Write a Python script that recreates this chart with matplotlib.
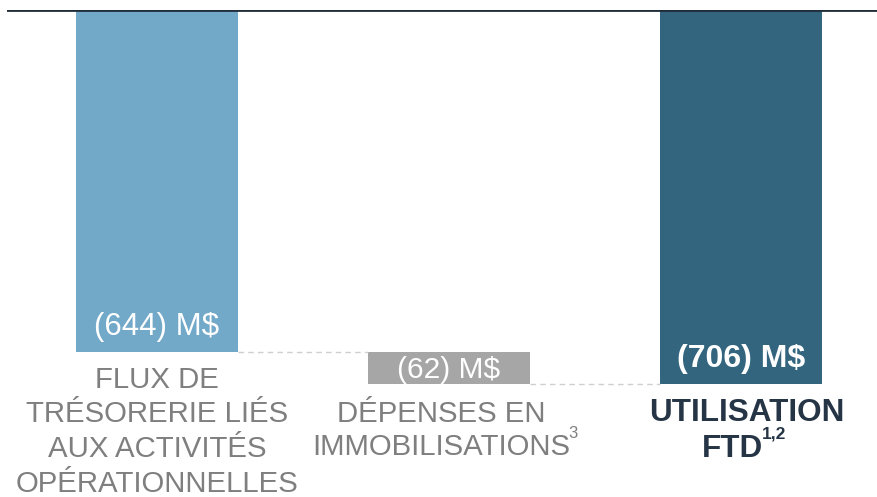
import matplotlib.pyplot as plt

plt.rcParams['font.family'] = ['Liberation Sans', 'DejaVu Sans']

# waterfall values (M$)
categories = [["FLUX DE", "TRÉSORERIE LIÉS", "AUX ACTIVITÉS", "OPÉRATIONNELLES"],
              ["DÉPENSES EN", "IMMOBILISATIONS"],
              ["UTILISATION", "FTD"]]
superscripts = ["", "3", "1,2"]
values = [-644, -62, -706]
value_labels = ["(644) M$", "(62) M$", "(706) M$"]
colors = ["#72a8c8", "#a6a6a6", "#33657e"]


def main():
    fig = plt.figure(figsize=(8.77, 4.97), dpi=100)
    ax = fig.add_axes([7 / 877, 0, 870 / 877, 487.5 / 497])

    px = 0.5311  # pixels per M$
    x = [0, 1, 2]
    w = 0.555

    # bottoms for waterfall
    starts = [0, values[0], 0]
    for i in range(3):
        ax.bar(x[i], values[i], bottom=starts[i], width=w, color=colors[i], zorder=2)

    # connectors
    ax.plot([x[0] + w / 2, x[1] - w / 2], [values[0]] * 2, ls=(0, (4, 3)), color="#cfcfcf", lw=1)
    ax.plot([x[1] + w / 2, x[2] - w / 2], [values[0] + values[1]] * 2, ls=(0, (4, 3)),
            color="#cfcfcf", lw=1)

    ax.axhline(0, color="#1f2d3a", lw=2, zorder=3)

    def py(p):
        return -(p - 9.5) / px

    def pxx(p):
        return (p - 157) / 292

    # value labels inside bars
    ax.text(x[0], py(335), value_labels[0], ha="center", va="baseline", color="white", fontsize=22.5)
    ax.text(x[1], py(378), value_labels[1], ha="center", va="baseline", color="white", fontsize=21.5)
    ax.text(x[2], py(367), value_labels[2], ha="center", va="baseline", color="white",
            fontsize=23, fontweight="bold")

    # category labels
    gray = "#7f7f7f"
    dark = "#253545"
    for line, base in zip(categories[0], [388, 422, 457, 492]):
        ax.text(x[0], py(base), line, ha="center", va="baseline", color=gray, fontsize=21.2)

    for line, base in zip(categories[1], [422, 455]):
        t = ax.text(pxx(441), py(base), line, ha="center", va="baseline", color=gray, fontsize=21.2)
    ax.annotate(superscripts[1], xy=(1, 1), xycoords=t, xytext=(-1, 5), textcoords="offset points",
                ha="left", va="top", color=gray, fontsize=12)

    ax.text(pxx(747), py(421), categories[2][0], ha="center", va="baseline", color=dark,
            fontsize=22.7, fontweight="bold")
    t = ax.text(pxx(763), py(457), categories[2][1], ha="right", va="baseline", color=dark,
                fontsize=22.7, fontweight="bold")
    ax.annotate(superscripts[2], xy=(1, 1), xycoords=t, xytext=(-1, 5.5), textcoords="offset points",
                ha="left", va="top", color=dark, fontsize=12.5, fontweight="bold")

    ax.set_xlim(pxx(7), pxx(877))
    ax.set_ylim(py(497), 0)
    ax.axis("off")

    fig.savefig("out.png", dpi=100)


if __name__ == "__main__":
    main()
